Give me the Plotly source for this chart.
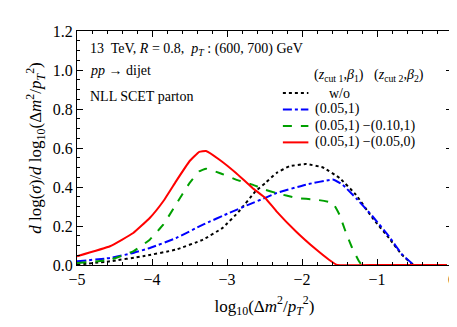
import plotly.graph_objects as go

# w/o (black dotted)
x_wo = [-5.0, -4.56, -4.12, -3.68, -3.32, -3.06, -2.84, -2.62, -2.49, -2.34, -2.17, -1.95, -1.72, -1.50, -1.28, -1.06, -0.84, -0.67, -0.51, -0.3, -0.07]
y_wo = [0.002, 0.019, 0.045, 0.079, 0.13, 0.19, 0.275, 0.378, 0.42, 0.472, 0.506, 0.518, 0.50, 0.446, 0.36, 0.241, 0.138, 0.053, 0.0, 0.0, 0.0]

# (0.05,1) (blue dash-dot)
x_b = [-5.0, -4.56, -4.25, -4.03, -3.68, -3.32, -2.97, -2.71, -2.49, -2.34, -1.95, -1.59, -1.46, -1.28, -1.06, -0.84, -0.67, -0.51]
y_b = [0.019, 0.036, 0.062, 0.087, 0.138, 0.207, 0.267, 0.31, 0.344, 0.369, 0.412, 0.438, 0.412, 0.343, 0.25, 0.147, 0.056, 0.0]

# (0.05,1) -(0.10,1) (green dashed)
x_g = [-5.0, -4.56, -4.25, -4.03, -3.85, -3.68, -3.5, -3.37, -3.28, -3.10, -2.88, -2.66, -2.49, -2.34, -2.08, -1.81, -1.59, -1.50, -1.42, -1.33, -1.24, -1.2, -0.6, -0.07]
y_g = [0.01, 0.027, 0.07, 0.13, 0.207, 0.31, 0.42, 0.48, 0.494, 0.472, 0.438, 0.412, 0.386, 0.369, 0.344, 0.335, 0.318, 0.258, 0.172, 0.087, 0.019, 0.0, 0.0, 0.0]

# (0.05,1) -(0.05,0) (red solid)
x_r = [-5.0, -4.56, -4.25, -4.03, -3.85, -3.68, -3.5, -3.37, -3.28, -3.10, -2.88, -2.66, -2.49, -2.34, -2.08, -1.81, -1.64, -1.53, -1.0, -0.5, -0.07]
y_r = [0.045, 0.096, 0.164, 0.241, 0.327, 0.429, 0.532, 0.58, 0.585, 0.54, 0.472, 0.395, 0.344, 0.275, 0.172, 0.079, 0.027, 0.0, 0.0, 0.0, 0.0]

names = ["w/o", "(0.05,1)", "(0.05,1) \u2212(0.10,1)", "(0.05,1) \u2212(0.05,0)"]
colors = ["black", "#0000ff", "#00a000", "#ff0000"]
dashes = ["dot", "dashdot", "dash", "solid"]
legend_header = "(<i>z</i><sub>cut 1</sub>,<i>\u03b2</i><sub>1</sub>)   (<i>z</i><sub>cut 2</sub>,<i>\u03b2</i><sub>2</sub>)"

FONT = "Liberation Serif"
fig = go.Figure()
for xs, ys, n, c, d in zip([x_wo, x_b, x_g, x_r], [y_wo, y_b, y_g, y_r], names, colors, dashes):
    fig.add_trace(go.Scatter(x=xs, y=ys, mode="lines", name=n, showlegend=False,
                             line=dict(color=c, dash=d, width=2, shape="spline", smoothing=0.3)))

axis_common = dict(showgrid=False, zeroline=False, showline=True, linecolor="black", linewidth=1,
                   mirror="allticks", ticks="inside", tickcolor="black", ticklen=6,
                   tickfont=dict(family=FONT, size=16, color="black"))
fig.update_xaxes(range=[-5, 0], dtick=1, tickformat="d",
                 minor=dict(dtick=0.2, ticks="inside", ticklen=3, tickcolor="black"),
                 title=dict(text="log<sub>10</sub>(\u0394<i>m</i><sup>2</sup>/<i>p</i><sub><i>T</i></sub><sup>2</sup>)",
                            font=dict(family=FONT, size=17, color="black"), standoff=12),
                 **axis_common)
fig.update_yaxes(range=[0, 1.2], dtick=0.2, tickformat=".1f",
                 minor=dict(dtick=0.05, ticks="inside", ticklen=3, tickcolor="black"),
                 title=dict(text="<i>d</i> log(<i>\u03c3</i>)/<i>d</i> log<sub>10</sub>(\u0394<i>m</i><sup>2</sup>/<i>p</i><sub><i>T</i></sub><sup>2</sup>)",
                            font=dict(family=FONT, size=17, color="black"), standoff=6),
                 **axis_common)

ann_font = dict(family=FONT, size=14, color="black")
fig.add_annotation(xref="paper", yref="paper", x=0.03, y=0.919, xanchor="left", yanchor="middle", showarrow=False,
                   text="13  TeV, <i>R</i> = 0.8,  <i>p<sub>T</sub></i> : (600, 700) GeV", font=ann_font)
fig.add_annotation(xref="paper", yref="paper", x=0.03, y=0.833, xanchor="left", yanchor="middle", showarrow=False,
                   text="<i>pp</i> \u2192 dijet", font=ann_font)
fig.add_annotation(xref="paper", yref="paper", x=0.03, y=0.718, xanchor="left", yanchor="middle", showarrow=False,
                   text="NLL SCET parton", font=ann_font)
fig.add_annotation(xref="paper", yref="paper", x=0.778, y=0.808, xanchor="center", yanchor="middle", showarrow=False,
                   text=legend_header, font=dict(family=FONT, size=14, color="black"))

# manual legend
row_y = [0.735, 0.665, 0.594, 0.524]
for ry, n, c, d in zip(row_y, names, colors, dashes):
    fig.add_shape(type="line", xref="paper", yref="paper", x0=0.549, x1=0.617, y0=ry, y1=ry,
                  line=dict(color=c, dash=d, width=2))
    fig.add_annotation(xref="paper", yref="paper", x=(0.70 if n == "w/o" else 0.628), y=ry,
                       xanchor=("center" if n == "w/o" else "left"), yanchor="middle", showarrow=False,
                       text=n, font=dict(family=FONT, size=14, color="black"))

fig.update_layout(
    width=457, height=327,
    margin=dict(l=69, r=9, t=23, b=70),
    paper_bgcolor="white", plot_bgcolor="white",
    font=dict(family=FONT, color="black"),
    showlegend=False,
)
fig.write_html("out.html")
